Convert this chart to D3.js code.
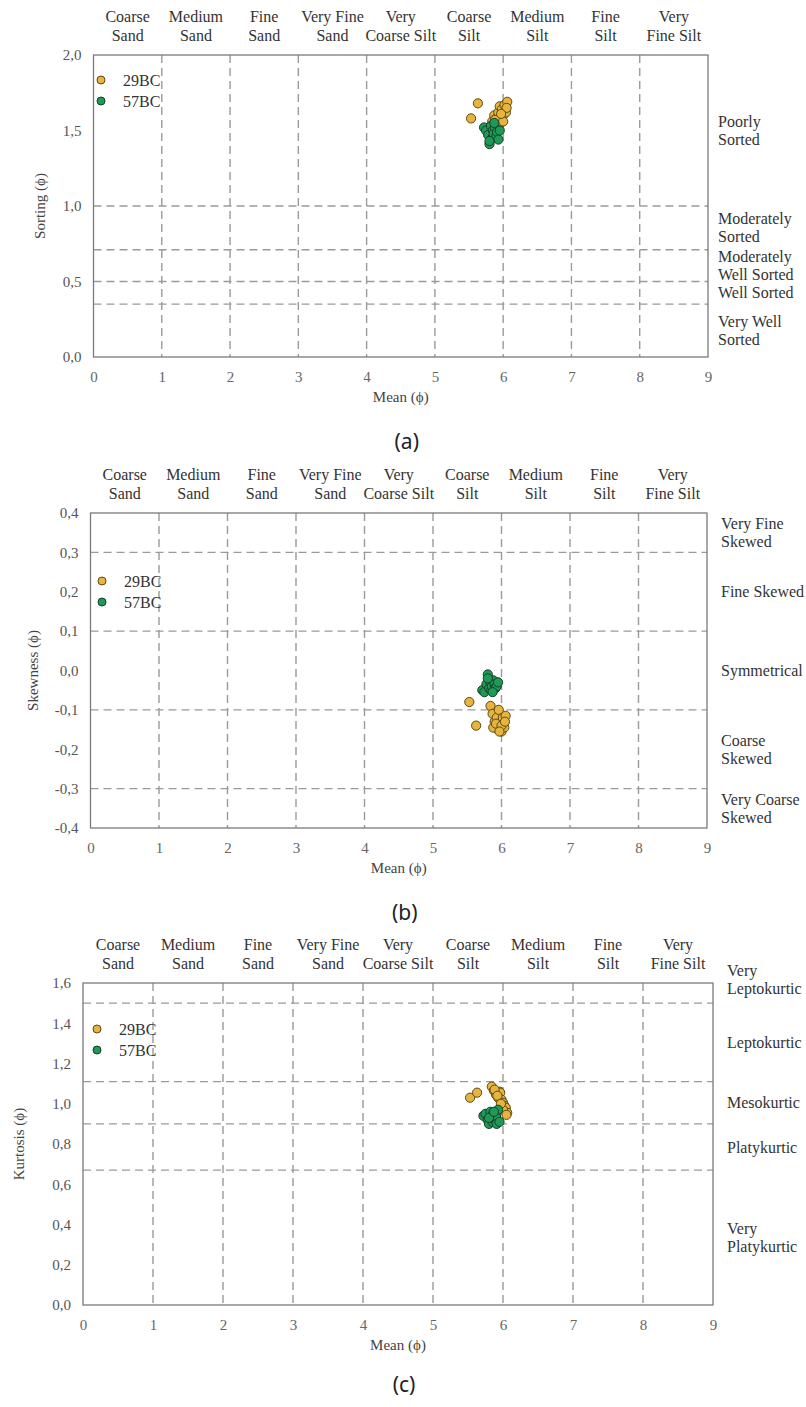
<!DOCTYPE html>
<html>
<head>
<meta charset="utf-8">
<script src="https://cdn.jsdelivr.net/npm/d3@7"></script>
<style>
  html, body { margin: 0; padding: 0; background: #fff; }
  svg { display: block; }
  svg text { font-family: "Liberation Serif", "Times New Roman", serif; }
  svg text.cap { font-family: "Noto Sans", "DejaVu Sans", sans-serif; }
</style>
</head>
<body>
<svg id="chart" width="806" height="1407"></svg>
<script>
// ---------------- DATA ----------------
const seriesNames = ["29BC", "57BC"];
const classNames = ["Coarse\nSand", "Medium\nSand", "Fine\nSand", "Very Fine\nSand", "Very\nCoarse Silt",
                    "Coarse\nSilt", "Medium\nSilt", "Fine\nSilt", "Very\nFine Silt"];
const xTicks = [0, 1, 2, 3, 4, 5, 6, 7, 8, 9];

// 29BC samples
const mean29 = [5.53, 5.63, 5.84, 5.87, 5.90, 5.93, 5.95, 5.96, 5.98, 6.00, 6.02, 6.04, 6.06, 5.88, 5.92, 6.00, 6.05, 5.97];
const sorting29 = [1.58, 1.68, 1.56, 1.60, 1.58, 1.62, 1.66, 1.55, 1.64, 1.60, 1.67, 1.62, 1.69, 1.57, 1.53, 1.56, 1.65, 1.61];
const skew29 = [-0.08, -0.14, -0.09, -0.11, -0.13, -0.12, -0.15, -0.10, -0.14, -0.155, -0.12, -0.145, -0.115, -0.145, -0.135, -0.14, -0.13, -0.155];
const kurt29 = [1.03, 1.055, 1.085, 1.065, 1.045, 1.03, 1.06, 1.055, 1.02, 1.005, 0.99, 0.98, 0.955, 1.07, 1.04, 0.97, 0.945, 1.00];

// 57BC samples
const mean57 = [5.72, 5.75, 5.78, 5.80, 5.82, 5.84, 5.85, 5.86, 5.88, 5.90, 5.91, 5.93, 5.80, 5.87, 5.95];
const sorting57 = [1.52, 1.50, 1.47, 1.41, 1.53, 1.45, 1.50, 1.48, 1.52, 1.46, 1.49, 1.44, 1.43, 1.55, 1.50];
const skew57 = [-0.05, -0.055, -0.035, -0.01, -0.045, -0.03, -0.05, -0.04, -0.025, -0.035, -0.045, -0.04, -0.02, -0.055, -0.03];
const kurt57 = [0.94, 0.95, 0.92, 0.90, 0.96, 0.93, 0.91, 0.95, 0.92, 0.94, 0.90, 0.97, 0.93, 0.96, 0.91];

// Panel (a) sorting
const sortTicks = [0, 0.5, 1.0, 1.5, 2.0];
const sortBounds = [0.35, 0.5, 0.71, 1.0];
const sortClassBounds = [0, 0.35, 0.5, 0.71, 1.0, 2.0];
const sortClasses = ["Very Well\nSorted", "Well Sorted", "Moderately\nWell Sorted", "Moderately\nSorted", "Poorly\nSorted"];

// Panel (b) skewness
const skewTicks = [-0.4, -0.3, -0.2, -0.1, 0, 0.1, 0.2, 0.3, 0.4];
const skewBounds = [-0.3, -0.1, 0.1, 0.3];
const skewClassBounds = [-0.4, -0.3, -0.1, 0.1, 0.3, 0.4];
const skewClasses = ["Very Coarse\nSkewed", "Coarse\nSkewed", "Symmetrical", "Fine Skewed", "Very Fine\nSkewed"];

// Panel (c) kurtosis
const kurtTicks = [0, 0.2, 0.4, 0.6, 0.8, 1.0, 1.2, 1.4, 1.6];
const kurtBounds = [0.67, 0.9, 1.11, 1.5];
const kurtClassBounds = [0, 0.67, 0.9, 1.11, 1.5, 1.6];
const kurtClasses = ["Very\nPlatykurtic", "Platykurtic", "Mesokurtic", "Leptokurtic", "Very\nLeptokurtic"];

// ---------------- DRAW ----------------
const colors = { "29BC": "#E8B440", "57BC": "#1E9956" };
const strokes = { "29BC": "#5C4A12", "57BC": "#16402A" };
const svg = d3.select("#chart");

function fmt(v) {
  return d3.format(".1f")(v).replace(".", ",").replace("−", "-");
}

function multiline(g, text, x, y, lh, anchor, size, color) {
  const lines = text.split("\n");
  const t = g.append("text")
    .attr("x", x).attr("y", y)
    .attr("text-anchor", anchor)
    .attr("font-size", size)
    .attr("fill", color);
  const y0 = -(lines.length - 1) * lh / 2;
  lines.forEach((ln, i) => {
    t.append("tspan").attr("x", x).attr("dy", i === 0 ? y0 : lh).attr("dominant-baseline", "central").text(ln);
  });
  return t;
}

function drawPanel(p) {
  const g = svg.append("g");
  const x = d3.scaleLinear().domain([0, 9]).range([p.left, p.right]);
  const y = d3.scaleLinear().domain(p.yDomain).range([p.bottom, p.top]);

  // vertical dashed grid (class boundaries)
  g.selectAll(".vg").data(xTicks.slice(1, -1)).enter().append("line")
    .attr("x1", d => x(d)).attr("x2", d => x(d))
    .attr("y1", p.top).attr("y2", p.bottom)
    .attr("stroke", "#9a9a9a").attr("stroke-width", 1.4).attr("stroke-dasharray", "8,5");

  // horizontal dashed boundaries
  g.selectAll(".hg").data(p.bounds).enter().append("line")
    .attr("x1", p.left).attr("x2", p.right)
    .attr("y1", d => y(d)).attr("y2", d => y(d))
    .attr("stroke", "#9a9a9a").attr("stroke-width", 1.4).attr("stroke-dasharray", "8,5");

  // frame
  g.append("rect").attr("x", p.left).attr("y", p.top)
    .attr("width", p.right - p.left).attr("height", p.bottom - p.top)
    .attr("fill", "none").attr("stroke", "#7a7a7a").attr("stroke-width", 1.3);

  // x axis
  const xAxis = d3.axisBottom(x).tickValues(xTicks).tickSize(0).tickPadding(14).tickFormat(d3.format("d"));
  const xg = g.append("g").attr("transform", `translate(0,${p.bottom})`).call(xAxis);
  xg.attr("font-family", null);
  xg.select(".domain").remove();
  xg.selectAll("text").attr("font-size", 15).attr("fill", "#666");

  // y axis
  const yAxis = d3.axisLeft(y).tickValues(p.yTicks).tickSize(0).tickPadding(12).tickFormat(fmt);
  const yg = g.append("g").attr("transform", `translate(${p.left},0)`).call(yAxis);
  yg.attr("font-family", null);
  yg.select(".domain").remove();
  yg.selectAll("text").attr("font-size", 15).attr("fill", "#555");

  // axis titles
  g.append("text").attr("x", (p.left + p.right) / 2).attr("y", p.bottom + 40)
    .attr("text-anchor", "middle").attr("dominant-baseline", "central")
    .attr("font-size", 15).attr("fill", "#444").text("Mean (ϕ)");
  g.append("text").attr("transform", `translate(${p.yTitleX},${(p.top + p.bottom) / 2}) rotate(-90)`)
    .attr("text-anchor", "middle").attr("dominant-baseline", "central")
    .attr("font-size", 15).attr("fill", "#444").text(p.yTitle);

  // top class labels
  classNames.forEach((c, i) => {
    multiline(g, c, x(i + 0.5), p.top - 29, 19, "middle", 16, "#333");
  });

  // right class labels
  p.classes.forEach((c, i) => {
    const mid = (p.classBounds[i] + p.classBounds[i + 1]) / 2;
    const off = (p.classOffsets && p.classOffsets[i]) || 0;
    multiline(g, c, p.right + p.rightPad, y(mid) + off, 18, "start", 16, "#333");
  });

  // points
  const sets = [
    { name: "29BC", xs: mean29, ys: p.y29 },
    { name: "57BC", xs: mean57, ys: p.y57 }
  ];
  sets.forEach(s => {
    g.append("g").selectAll("circle").data(s.xs.map((v, i) => [v, s.ys[i]])).enter().append("circle")
      .attr("cx", d => x(d[0])).attr("cy", d => y(d[1])).attr("r", 4.6)
      .attr("fill", colors[s.name]).attr("stroke", strokes[s.name]).attr("stroke-width", 1);
  });

  // legend
  seriesNames.forEach((n, i) => {
    const ly = p.legendY + i * 21;
    g.append("circle").attr("cx", p.legendX).attr("cy", ly).attr("r", 4)
      .attr("fill", colors[n]).attr("stroke", strokes[n]).attr("stroke-width", 1);
    g.append("text").attr("x", p.legendX + 22).attr("y", ly).attr("dominant-baseline", "central")
      .attr("font-size", 16).attr("fill", "#333").text(n);
  });

  // caption
  g.append("text").attr("class", "cap").attr("x", (p.left + p.right) / 2 + 6).attr("y", p.captionY)
    .attr("text-anchor", "middle").attr("dominant-baseline", "central")
    .attr("font-size", 21).attr("fill", "#222")
    .text(p.caption);
}

drawPanel({
  left: 93.5, right: 708, top: 55, bottom: 357, yDomain: [0, 2], yTicks: sortTicks,
  bounds: sortBounds, classBounds: sortClassBounds, classes: sortClasses, rightPad: 10,
  yTitle: "Sorting (ϕ)", yTitleX: 40, y29: sorting29, y57: sorting57,
  legendX: 101, legendY: 80, caption: "(a)", captionY: 441
});

drawPanel({
  left: 90.5, right: 707, top: 513, bottom: 828, yDomain: [-0.4, 0.4], yTicks: skewTicks,
  bounds: skewBounds, classBounds: skewClassBounds, classes: skewClasses, rightPad: 14,
  yTitle: "Skewness (ϕ)", yTitleX: 33, y29: skew29, y57: skew57,
  legendX: 102, legendY: 581, caption: "(b)", captionY: 912
});

drawPanel({
  left: 83, right: 713, top: 983, bottom: 1305, yDomain: [0, 1.6], yTicks: kurtTicks,
  bounds: kurtBounds, classBounds: kurtClassBounds, classes: kurtClasses, rightPad: 14,
  classOffsets: [0, 0, 0, 0, -14],
  yTitle: "Kurtosis (ϕ)", yTitleX: 19, y29: kurt29, y57: kurt57,
  legendX: 97, legendY: 1029, caption: "(c)", captionY: 1384
});
</script>
</body>
</html>
